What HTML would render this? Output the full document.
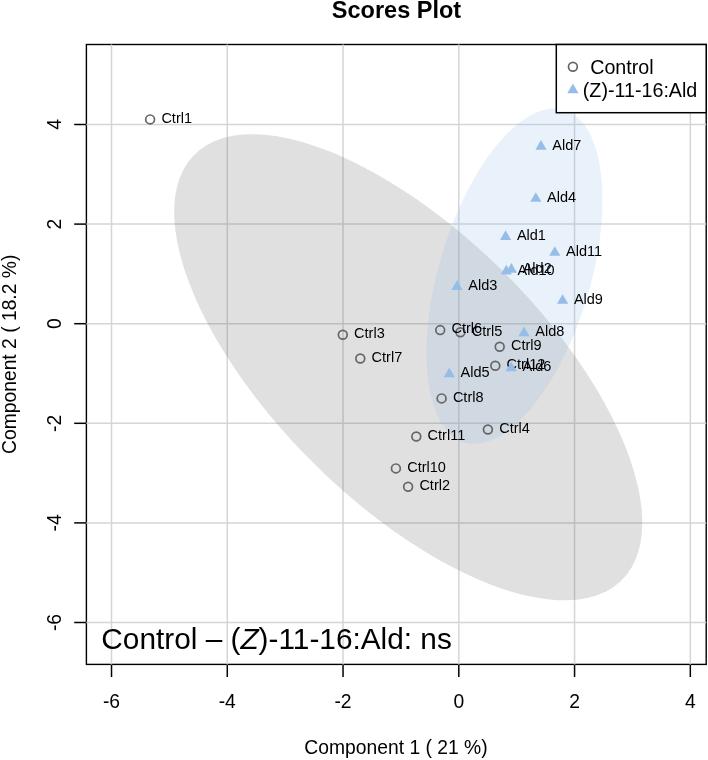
<!DOCTYPE html>
<html><head><meta charset="utf-8"><style>
html,body{margin:0;padding:0;background:#fff;}
body{width:708px;height:760px;overflow:hidden;}
svg{display:block;will-change:transform;}
text{font-family:"Liberation Sans",sans-serif;fill:#000;}
</style></head><body>
<svg width="708" height="760" viewBox="0 0 708 760" font-family="Liberation Sans, sans-serif">
<rect width="708" height="760" fill="#fff"/>
<rect x="86.4" y="44.5" width="619.8000000000001" height="619.9" fill="none" stroke="#000" stroke-width="1.4"/>
<line x1="111.52" y1="664.4" x2="111.52" y2="677.0" stroke="#000" stroke-width="1.5"/>
<text x="111.52" y="708.3" font-size="19.3" text-anchor="middle">-6</text>
<line x1="227.28" y1="664.4" x2="227.28" y2="677.0" stroke="#000" stroke-width="1.5"/>
<text x="227.28" y="708.3" font-size="19.3" text-anchor="middle">-4</text>
<line x1="343.04" y1="664.4" x2="343.04" y2="677.0" stroke="#000" stroke-width="1.5"/>
<text x="343.04" y="708.3" font-size="19.3" text-anchor="middle">-2</text>
<line x1="458.80" y1="664.4" x2="458.80" y2="677.0" stroke="#000" stroke-width="1.5"/>
<text x="458.80" y="708.3" font-size="19.3" text-anchor="middle">0</text>
<line x1="574.56" y1="664.4" x2="574.56" y2="677.0" stroke="#000" stroke-width="1.5"/>
<text x="574.56" y="708.3" font-size="19.3" text-anchor="middle">2</text>
<line x1="690.32" y1="664.4" x2="690.32" y2="677.0" stroke="#000" stroke-width="1.5"/>
<text x="690.32" y="708.3" font-size="19.3" text-anchor="middle">4</text>
<line x1="86.4" y1="622.50" x2="74.2" y2="622.50" stroke="#000" stroke-width="1.5"/>
<text transform="translate(61,622.50) rotate(-90)" font-size="19.3" text-anchor="middle">-6</text>
<line x1="86.4" y1="522.90" x2="74.2" y2="522.90" stroke="#000" stroke-width="1.5"/>
<text transform="translate(61,522.90) rotate(-90)" font-size="19.3" text-anchor="middle">-4</text>
<line x1="86.4" y1="423.30" x2="74.2" y2="423.30" stroke="#000" stroke-width="1.5"/>
<text transform="translate(61,423.30) rotate(-90)" font-size="19.3" text-anchor="middle">-2</text>
<line x1="86.4" y1="323.70" x2="74.2" y2="323.70" stroke="#000" stroke-width="1.5"/>
<text transform="translate(61,323.70) rotate(-90)" font-size="19.3" text-anchor="middle">0</text>
<line x1="86.4" y1="224.10" x2="74.2" y2="224.10" stroke="#000" stroke-width="1.5"/>
<text transform="translate(61,224.10) rotate(-90)" font-size="19.3" text-anchor="middle">2</text>
<line x1="86.4" y1="124.50" x2="74.2" y2="124.50" stroke="#000" stroke-width="1.5"/>
<text transform="translate(61,124.50) rotate(-90)" font-size="19.3" text-anchor="middle">4</text>
<text x="396.5" y="18.2" font-size="23.5" font-weight="bold" text-anchor="middle">Scores Plot</text>
<text x="396" y="753.6" font-size="19.3" text-anchor="middle">Component 1 ( 21 %)</text>
<text transform="translate(15.6,354.3) rotate(-90)" font-size="19.3" text-anchor="middle">Component 2 ( 18.2 %)</text>
<line x1="111.52" y1="44.5" x2="111.52" y2="664.4" stroke="#d5d5d5" stroke-width="1.5"/>
<line x1="227.28" y1="44.5" x2="227.28" y2="664.4" stroke="#d5d5d5" stroke-width="1.5"/>
<line x1="343.04" y1="44.5" x2="343.04" y2="664.4" stroke="#d5d5d5" stroke-width="1.5"/>
<line x1="458.80" y1="44.5" x2="458.80" y2="664.4" stroke="#d5d5d5" stroke-width="1.5"/>
<line x1="574.56" y1="44.5" x2="574.56" y2="664.4" stroke="#d5d5d5" stroke-width="1.5"/>
<line x1="690.32" y1="44.5" x2="690.32" y2="664.4" stroke="#d5d5d5" stroke-width="1.5"/>
<line x1="86.4" y1="622.50" x2="706.2" y2="622.50" stroke="#d5d5d5" stroke-width="1.5"/>
<line x1="86.4" y1="522.90" x2="706.2" y2="522.90" stroke="#d5d5d5" stroke-width="1.5"/>
<line x1="86.4" y1="423.30" x2="706.2" y2="423.30" stroke="#d5d5d5" stroke-width="1.5"/>
<line x1="86.4" y1="323.70" x2="706.2" y2="323.70" stroke="#d5d5d5" stroke-width="1.5"/>
<line x1="86.4" y1="224.10" x2="706.2" y2="224.10" stroke="#d5d5d5" stroke-width="1.5"/>
<line x1="86.4" y1="124.50" x2="706.2" y2="124.50" stroke="#d5d5d5" stroke-width="1.5"/>
<path d="M503.74,272.11 L490.00,258.81 L475.93,245.94 L461.58,233.56 L447.02,221.72 L432.30,210.46 L417.49,199.84 L402.63,189.89 L387.81,180.65 L373.06,172.17 L358.45,164.47 L344.05,157.59 L329.90,151.55 L316.07,146.38 L302.61,142.10 L289.57,138.72 L277.02,136.27 L264.99,134.75 L253.53,134.16 L242.70,134.51 L232.54,135.80 L223.08,138.02 L214.37,141.16 L206.44,145.22 L199.33,150.16 L193.05,155.99 L187.64,162.66 L183.12,170.15 L179.50,178.44 L176.81,187.49 L175.05,197.27 L174.22,207.73 L174.34,218.83 L175.40,230.53 L177.40,242.78 L180.33,255.53 L184.17,268.73 L188.92,282.32 L194.55,296.26 L201.04,310.49 L208.36,324.94 L216.49,339.56 L225.40,354.30 L235.03,369.09 L245.37,383.87 L256.36,398.58 L267.96,413.17 L280.13,427.57 L292.81,441.73 L305.96,455.59 L319.52,469.09 L333.43,482.18 L347.65,494.81 L362.11,506.93 L376.76,518.49 L391.53,529.43 L406.37,539.72 L421.22,549.32 L436.02,558.19 L450.70,566.28 L465.21,573.58 L479.50,580.04 L493.49,585.65 L507.15,590.38 L520.40,594.20 L533.20,597.12 L545.50,599.11 L557.25,600.17 L568.40,600.28 L578.90,599.46 L588.71,597.71 L597.80,595.02 L606.12,591.42 L613.65,586.92 L620.35,581.53 L626.20,575.28 L631.16,568.19 L635.24,560.30 L638.39,551.62 L640.62,542.21 L641.91,532.08 L642.27,521.30 L641.68,509.89 L640.15,497.91 L637.68,485.41 L634.30,472.43 L630.00,459.02 L624.81,445.25 L618.74,431.16 L611.83,416.81 L604.10,402.26 L595.58,387.58 L586.31,372.81 L576.32,358.02 L565.65,343.26 L554.35,328.61 L542.46,314.11 L530.03,299.82 L517.10,285.80 L503.74,272.11Z" fill="#666666" fill-opacity="0.2"/>
<path d="M589.47,133.06 L586.41,127.80 L583.06,123.13 L579.43,119.08 L575.54,115.66 L571.40,112.89 L567.04,110.78 L562.46,109.33 L557.69,108.56 L552.75,108.46 L547.65,109.03 L542.42,110.28 L537.08,112.19 L531.64,114.77 L526.14,117.99 L520.58,121.86 L515.01,126.34 L509.43,131.42 L503.87,137.09 L498.35,143.32 L492.90,150.09 L487.54,157.36 L482.28,165.11 L477.16,173.30 L472.18,181.91 L467.37,190.90 L462.76,200.24 L458.35,209.88 L454.16,219.78 L450.22,229.91 L446.54,240.23 L443.14,250.70 L440.01,261.26 L437.19,271.89 L434.68,282.53 L432.49,293.15 L430.64,303.69 L429.11,314.13 L427.94,324.42 L427.11,334.51 L426.63,344.36 L426.50,353.94 L426.73,363.21 L427.32,372.12 L428.25,380.65 L429.53,388.76 L431.16,396.42 L433.11,403.59 L435.40,410.25 L438.00,416.37 L440.92,421.92 L444.12,426.89 L447.61,431.24 L451.37,434.98 L455.39,438.07 L459.64,440.52 L464.11,442.30 L468.79,443.41 L473.65,443.85 L478.67,443.61 L483.84,442.70 L489.13,441.12 L494.52,438.87 L500.00,435.97 L505.53,432.43 L511.09,428.25 L516.67,423.47 L522.25,418.08 L527.79,412.13 L533.27,405.63 L538.68,398.61 L544.00,391.10 L549.19,383.12 L554.24,374.71 L559.14,365.91 L563.85,356.74 L568.37,347.25 L572.66,337.48 L576.73,327.45 L580.54,317.22 L584.09,306.82 L587.35,296.31 L590.33,285.70 L592.99,275.06 L595.34,264.43 L597.37,253.84 L599.06,243.34 L600.41,232.98 L601.41,222.78 L602.07,212.81 L602.37,203.08 L602.32,193.66 L601.91,184.56 L601.15,175.83 L600.04,167.51 L598.59,159.62 L596.80,152.21 L594.67,145.29 L592.23,138.90 L589.47,133.06Z" fill="#8fb8e4" fill-opacity="0.2"/>
<circle cx="150.1" cy="119.4" r="4.4" fill="none" stroke="#666666" stroke-width="1.7"/>
<circle cx="408.1" cy="486.8" r="4.4" fill="none" stroke="#666666" stroke-width="1.7"/>
<circle cx="342.8" cy="334.7" r="4.4" fill="none" stroke="#666666" stroke-width="1.7"/>
<circle cx="487.9" cy="429.5" r="4.4" fill="none" stroke="#666666" stroke-width="1.7"/>
<circle cx="460.4" cy="332.3" r="4.4" fill="none" stroke="#666666" stroke-width="1.7"/>
<circle cx="440.2" cy="330.1" r="4.4" fill="none" stroke="#666666" stroke-width="1.7"/>
<circle cx="360.3" cy="358.5" r="4.4" fill="none" stroke="#666666" stroke-width="1.7"/>
<circle cx="441.6" cy="398.4" r="4.4" fill="none" stroke="#666666" stroke-width="1.7"/>
<circle cx="499.7" cy="346.7" r="4.4" fill="none" stroke="#666666" stroke-width="1.7"/>
<circle cx="395.9" cy="468.4" r="4.4" fill="none" stroke="#666666" stroke-width="1.7"/>
<circle cx="416.3" cy="436.5" r="4.4" fill="none" stroke="#666666" stroke-width="1.7"/>
<circle cx="495.3" cy="365.7" r="4.4" fill="none" stroke="#666666" stroke-width="1.7"/>
<text x="161.40" y="122.70" font-size="14.5">Ctrl1</text>
<text x="419.40" y="490.10" font-size="14.5">Ctrl2</text>
<text x="354.10" y="338.00" font-size="14.5">Ctrl3</text>
<text x="499.20" y="432.80" font-size="14.5">Ctrl4</text>
<text x="471.70" y="335.60" font-size="14.5">Ctrl5</text>
<text x="451.50" y="333.40" font-size="14.5">Ctrl6</text>
<text x="371.60" y="361.80" font-size="14.5">Ctrl7</text>
<text x="452.90" y="401.70" font-size="14.5">Ctrl8</text>
<text x="511.00" y="350.00" font-size="14.5">Ctrl9</text>
<text x="407.20" y="471.70" font-size="14.5">Ctrl10</text>
<text x="427.60" y="439.80" font-size="14.5">Ctrl11</text>
<text x="506.60" y="369.00" font-size="14.5">Ctrl12</text>
<path d="M505.60,230.35 L511.19,240.03 L500.01,240.03Z" fill="#96bde8"/>
<path d="M457.00,280.35 L462.59,290.03 L451.41,290.03Z" fill="#96bde8"/>
<path d="M535.80,192.15 L541.39,201.83 L530.21,201.83Z" fill="#96bde8"/>
<path d="M449.30,367.55 L454.89,377.23 L443.71,377.23Z" fill="#96bde8"/>
<path d="M511.10,361.55 L516.69,371.23 L505.51,371.23Z" fill="#96bde8"/>
<path d="M541.00,140.05 L546.59,149.73 L535.41,149.73Z" fill="#96bde8"/>
<path d="M524.00,326.55 L529.59,336.23 L518.41,336.23Z" fill="#96bde8"/>
<path d="M562.60,294.15 L568.19,303.83 L557.01,303.83Z" fill="#96bde8"/>
<path d="M511.40,262.95 L516.99,272.63 L505.81,272.63Z" fill="#96bde8"/>
<path d="M506.30,264.75 L511.89,274.43 L500.71,274.43Z" fill="#96bde8"/>
<path d="M554.80,246.15 L560.39,255.83 L549.21,255.83Z" fill="#96bde8"/>
<text x="516.90" y="240.10" font-size="14.5">Ald1</text>
<text x="468.30" y="290.10" font-size="14.5">Ald3</text>
<text x="547.10" y="201.90" font-size="14.5">Ald4</text>
<text x="460.60" y="377.30" font-size="14.5">Ald5</text>
<text x="522.40" y="371.30" font-size="14.5">Ald6</text>
<text x="552.30" y="149.80" font-size="14.5">Ald7</text>
<text x="535.30" y="336.30" font-size="14.5">Ald8</text>
<text x="573.90" y="303.90" font-size="14.5">Ald9</text>
<text x="522.70" y="272.70" font-size="14.5">Ald2</text>
<text x="517.60" y="274.50" font-size="14.5">Ald10</text>
<text x="566.10" y="255.90" font-size="14.5">Ald11</text>
<rect x="556.3" y="44.5" width="149.90" height="68.20" fill="#fff" stroke="#000" stroke-width="1.5"/>
<circle cx="572.9" cy="66.8" r="4.4" fill="none" stroke="#666666" stroke-width="1.7"/>
<path d="M572.90,83.55 L578.49,93.23 L567.31,93.23Z" fill="#96bde8"/>
<text x="590.2" y="74.4" font-size="19.7">Control</text>
<text x="582.8" y="97.2" font-size="19.7">(Z)-11-16:Ald</text>
<text x="101.3" y="648.8" font-size="29.8">Control – (<tspan font-style="italic">Z</tspan>)-11-16:Ald: ns</text>
</svg>
</body></html>
